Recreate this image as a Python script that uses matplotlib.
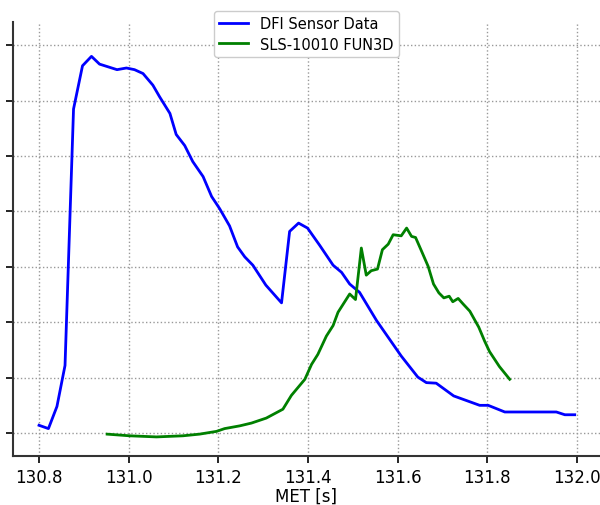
import matplotlib
matplotlib.use("Agg")
import matplotlib.pyplot as plt

# DFI sensor data (MET [s], arbitrary units)
dfi_t = [130.800, 130.821, 130.840, 130.858, 130.877, 130.897, 130.917, 130.935,
         130.974, 130.995, 131.013, 131.032, 131.054, 131.069, 131.092, 131.106,
         131.125, 131.143, 131.166, 131.185, 131.203, 131.225, 131.243, 131.259,
         131.277, 131.306, 131.341, 131.359, 131.379, 131.399, 131.426, 131.456,
         131.475, 131.493, 131.515, 131.553, 131.608, 131.645, 131.664, 131.686,
         131.725, 131.783, 131.802, 131.839, 131.954, 131.973, 131.995]
dfi_v = [0.14, 0.08, 0.48, 1.22, 5.85, 6.63, 6.80, 6.66,
         6.56, 6.59, 6.56, 6.49, 6.28, 6.07, 5.77, 5.39,
         5.19, 4.90, 4.63, 4.27, 4.05, 3.74, 3.36, 3.18,
         3.03, 2.67, 2.35, 3.64, 3.79, 3.70, 3.39, 3.03,
         2.90, 2.69, 2.54, 2.03, 1.39, 1.01, 0.91, 0.90,
         0.67, 0.50, 0.50, 0.38, 0.38, 0.33, 0.33]

# SLS-10010 FUN3D
cfd_t = [130.952, 131.002, 131.062, 131.121, 131.158, 131.196, 131.214, 131.248,
         131.274, 131.307, 131.344, 131.363, 131.393, 131.408, 131.422, 131.441,
         131.456, 131.467, 131.493, 131.506, 131.519, 131.530, 131.541, 131.555,
         131.566, 131.579, 131.590, 131.608, 131.620, 131.631, 131.640, 131.653,
         131.668, 131.680, 131.692, 131.703, 131.715, 131.723, 131.735, 131.746,
         131.761, 131.781, 131.794, 131.805, 131.827, 131.850]
cfd_v = [-0.02, -0.05, -0.07, -0.05, -0.02, 0.03, 0.08, 0.13,
         0.18, 0.27, 0.43, 0.68, 0.97, 1.24, 1.42, 1.75,
         1.94, 2.18, 2.51, 2.41, 3.34, 2.85, 2.93, 2.96,
         3.31, 3.41, 3.58, 3.56, 3.70, 3.55, 3.53, 3.29,
         3.01, 2.69, 2.53, 2.44, 2.47, 2.37, 2.43, 2.33,
         2.20, 1.91, 1.66, 1.47, 1.20, 0.97]

xticks = [130.8, 131.0, 131.2, 131.4, 131.6, 131.8, 132.0]
yticks = [0, 1, 2, 3, 4, 5, 6, 7]

fig = plt.figure(figsize=(6.0, 5.06), dpi=100)
ax = fig.add_axes([0.0217, 0.0968, 0.978, 0.8577])

ax.plot(dfi_t, dfi_v, color="blue", lw=2, label="DFI Sensor Data")
ax.plot(cfd_t, cfd_v, color="green", lw=2, label="SLS-10010 FUN3D")

ax.set_xlim(130.742, 132.051)
ax.set_ylim(-0.415, 7.42)
ax.set_xticks(xticks)
ax.set_xticklabels([f"{v:.1f}" for v in xticks], fontsize=12)
ax.set_yticks(yticks)
ax.set_yticklabels([])
ax.tick_params(axis="both", direction="out", length=5, width=1.2)
ax.grid(True, linestyle=":", color="#999999", lw=1)
for s in ["top", "right"]:
    ax.spines[s].set_visible(False)
for s in ["left", "bottom"]:
    ax.spines[s].set_linewidth(1.5)
    ax.spines[s].set_color("#333333")
ax.set_xlabel("MET [s]", fontsize=12, labelpad=1)
ax.legend(loc="upper center", bbox_to_anchor=(0.5, 1.043), fontsize=10.5,
          framealpha=1, borderpad=0.35, labelspacing=0.4)

fig.savefig("out.png", dpi=100)
